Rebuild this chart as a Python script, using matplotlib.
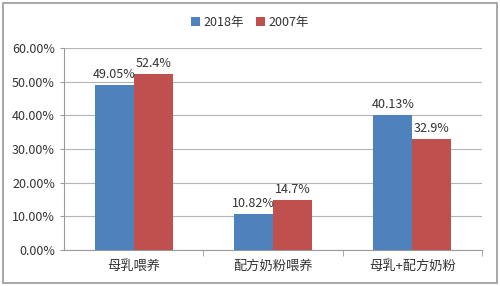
import numpy as np
import matplotlib.pyplot as plt
from matplotlib.patches import Rectangle

plt.rcParams['font.family'] = ['Noto Sans CJK SC', 'DejaVu Sans']

# data
categories = ['母乳喂养', '配方奶粉喂养', '母乳+配方奶粉']
vals_2018 = [49.05, 10.82, 40.13]
vals_2007 = [52.4, 14.7, 32.9]
labels_2018 = ['49.05%', '10.82%', '40.13%']
labels_2007 = ['52.4%', '14.7%', '32.9%']

txt = '#333333'

fig = plt.figure(figsize=(5, 2.86), dpi=100)
ax = fig.add_axes([0.128, 0.126, 0.836, 0.706])

x = np.arange(len(categories))
w = 0.28
b1 = ax.bar(x - w / 2, vals_2018, w, color='#4F81BD', label='2018年', zorder=3)
b2 = ax.bar(x + w / 2, vals_2007, w, color='#C0504D', label='2007年', zorder=3)

for bars, labs in [(b1, labels_2018), (b2, labels_2007)]:
    for rect, lab in zip(bars, labs):
        ax.text(rect.get_x() + rect.get_width() / 2, rect.get_height() + 1.2, lab,
                ha='center', va='bottom', fontsize=9, color=txt, zorder=4)

ax.set_xlim(-0.5, 2.5)
ax.set_ylim(0, 60)
ax.set_yticks(np.arange(0, 61, 10))
ax.set_yticklabels(['%.2f%%' % v for v in np.arange(0, 61, 10)])
ax.set_xticks(x)
ax.set_xticklabels(categories)
ax.set_xticks([0.5, 1.5, 2.5], minor=True)

ax.grid(axis='y', color='#B5B5B5', linewidth=0.8, zorder=0)
for s in ['top', 'right']:
    ax.spines[s].set_visible(False)
ax.spines['left'].set_color('#9A9A9A')
ax.spines['bottom'].set_color('#9A9A9A')
ax.tick_params(axis='y', labelsize=9, length=3, color='#9A9A9A', labelcolor=txt)
ax.tick_params(axis='x', which='major', labelsize=9.5, length=0, pad=7, labelcolor=txt)
ax.tick_params(axis='x', which='minor', length=4, color='#9A9A9A')

leg = ax.legend(loc='center', bbox_to_anchor=(0.5, 0.923), bbox_transform=fig.transFigure,
                ncol=2, frameon=False, fontsize=9, handlelength=0.7, handleheight=0.7,
                handletextpad=0.3, columnspacing=1.0)
for t in leg.get_texts():
    t.set_color(txt)

# outer border
fig.patches.append(Rectangle((0.006, 0.01), 0.988, 0.98, transform=fig.transFigure,
                             fill=False, edgecolor='#9A9A9A', linewidth=1.2))

fig.savefig('out.png', dpi=100)
